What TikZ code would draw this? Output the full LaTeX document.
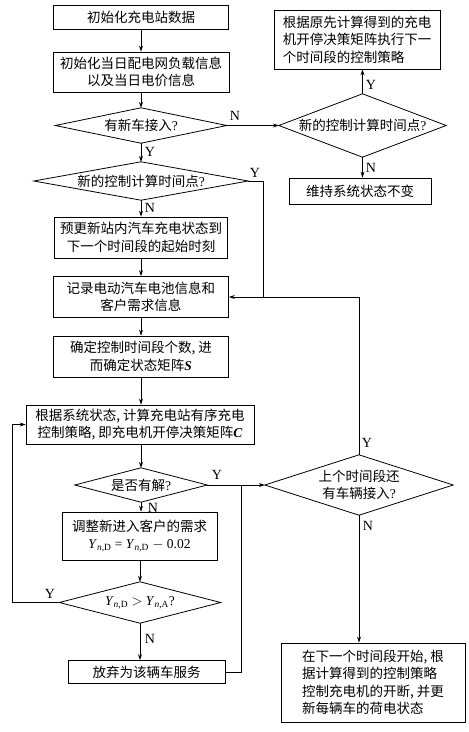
\documentclass[tikz,border=0pt]{standalone}
\usepackage{fontspec}
\setmainfont{Liberation Serif}
\newfontfamily\cjk{Noto Sans CJK SC}
\usetikzlibrary{arrows.meta}
\newcommand{\Ysub}[2]{\textit{Y}\textsubscript{\textit{#1},#2}}
\begin{document}
\begin{tikzpicture}[x=1pt,y=-1pt,
  box/.style={draw, line width=0.8pt, inner sep=2pt, align=center, font=\cjk\fontsize{13.5}{17.5}\selectfont},
  dia/.style={inner sep=0pt, align=center, font=\cjk\fontsize{13.5}{17.5}\selectfont},
  lab/.style={font=\fontsize{14}{14}\selectfont, inner sep=0pt},
  arr/.style={-{Stealth[length=6pt,width=4pt]}, line width=0.8pt},
  ln/.style={line width=0.8pt}]
\fill[white] (0,0) rectangle (469,732);
\useasboundingbox (0,0) rectangle (469,732);
% nodes
\node[box, minimum width=175pt, minimum height=24pt] (b1) at (141,17) {初始化充电站数据};
\node[box, minimum width=176pt, minimum height=40pt] (b2) at (141,72) {初始化当日配电网负载信息\\以及当日电价信息};
\node[dia, minimum width=171pt, minimum height=35pt] (d1) at (141,125.5) {有新车接入{\rmfamily ?}};
\node[dia, minimum width=167pt, minimum height=63pt] (d2) at (362.5,125.5) {新的控制计算时间点{\rmfamily ?}};
\node[box, minimum width=166pt, minimum height=59pt, align=left] (b3) at (357,39.5) {根据原先计算得到的充电\\机开停决策矩阵执行下一\\个时间段的控制策略};
\node[box, minimum width=142pt, minimum height=26pt] (b4) at (360,191) {维持系统状态不变};
\node[dia, minimum width=214pt, minimum height=38pt] (d3) at (141,181) {新的控制计算时间点{\rmfamily ?}};
\node[box, minimum width=173pt, minimum height=41pt] (b5) at (141,237.5) {预更新站内汽车充电状态到\\下一个时间段的起始时刻};
\node[box, minimum width=175pt, minimum height=41pt] (b6) at (141,297) {记录电动汽车电池信息和\\客户需求信息};
\node[box, minimum width=175pt, minimum height=41pt] (b7) at (141,356.5) {确定控制时间段个数, 进\\而确定状态矩阵{\rmfamily\bfseries\itshape S}};
\node[box, minimum width=228pt, minimum height=39pt] (b8) at (140,424.5) {根据系统状态, 计算充电站有序充电\\控制策略, 即充电机开停决策矩阵{\rmfamily\bfseries\itshape C}};
\node[dia, minimum width=132pt, minimum height=34pt] (d4) at (141,485) {是否有解{\rmfamily ?}};
\node[dia, minimum width=188pt, minimum height=60pt] (d5) at (359,485) {上个时间段还\\有车辆接入{\rmfamily ?}};
\node[box, minimum width=155pt, minimum height=48pt] (b9) at (139.5,536) {调整新进入客户的需求\\{\rmfamily \Ysub{n}{D} = \Ysub{n}{D} $-$ 0.02}};
\node[dia, minimum width=161pt, minimum height=41pt] (d6) at (140,602.5) {{\rmfamily \Ysub{n}{D} $>$ \Ysub{n}{A}?}};
\node[box, minimum width=157pt, minimum height=23pt] (b10) at (146.5,672) {放弃为该辆车服务};
\node[box, minimum width=184pt, minimum height=79pt, align=left] (b11) at (373,682.5) {在下一个时间段开始, 根\\据计算得到的控制策略\\控制充电机的开断, 并更\\新每辆车的荷电状态};
% diamond outlines
\foreach \d in {d1,d2,d3,d4,d5,d6}
  \draw[ln, line join=miter] (\d.north) -- (\d.east) -- (\d.south) -- (\d.west) -- cycle;
% junction coordinates
\coordinate (j1) at (263,297);
\coordinate (j2) at (241,485);
\coordinate (k1) at (12,602.5);
\coordinate (k2) at (12,424.5);
% connectors
\draw[arr] (b1) -- (b2);
\draw[arr] (b2) -- (d1.north);
\draw[arr] (d1.east) -- (d2.west);
\draw[arr] (d2.north) -- (d2.north |- b3.south);
\draw[arr] (d2.south) -- (d2.south |- b4.north);
\draw[arr] (d1.south) -- (d3.north);
\draw[arr] (d3.south) -- (d3.south |- b5.north);
\draw[ln] (d3.east) -| (j1);
\draw[arr] (d5.north) |- (b6.east);
\draw[arr] (b5) -- (b6);
\draw[arr] (b6) -- (b7);
\draw[arr] (b7.south) -- (b7.south |- b8.north);
\draw[arr] (b8.south -| d4.north) -- (d4.north);
\draw[arr] (d4.east) -- (d5.west);
\draw[arr] (d4.south) -- (d4.south |- b9.north);
\draw[arr] (b9.south -| d6.north) -- (d6.north);
\draw[arr] (d6.west) -- (k1) -- (k2) -- (b8.west);
\draw[arr] (d6.south) -- (d6.south |- b10.north);
\draw[ln] (b10.east) -| (j2);
\draw[arr] (d5.south) -- (d5.south |- b11.north);
% labels
\node[lab] (lN1) at (235,116) {N};
\node[lab] (lY2) at (371,85) {Y};
\node[lab] (lN2) at (371,168) {N};
\node[lab] (lY1) at (150,152) {Y};
\node[lab] (lY3) at (255,173) {Y};
\node[lab] (lN3) at (150,208) {N};
\node[lab] (lY4) at (217,475) {Y};
\node[lab] (lY5) at (367,443) {Y};
\node[lab] (lN4) at (153,508) {N};
\node[lab] (lN5) at (368,526) {N};
\node[lab] (lY6) at (50,594) {Y};
\node[lab] (lN6) at (150,639) {N};
\end{tikzpicture}
\end{document}
